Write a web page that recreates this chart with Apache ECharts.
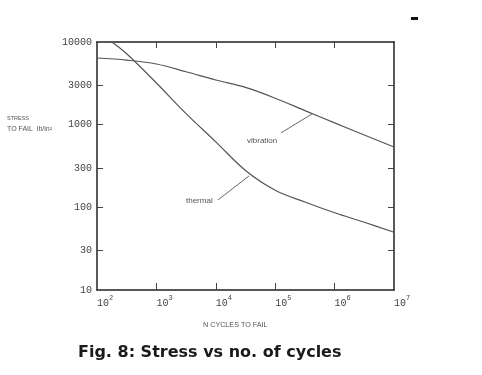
<!DOCTYPE html>
<html>
<head>
<meta charset="utf-8">
<script src="https://cdn.jsdelivr.net/npm/echarts@6/dist/echarts.min.js"></script>
<style>html,body{margin:0;padding:0;background:#fff}#c{width:482px;height:375px}</style>
</head>
<body>
<div id="c"></div>
<script>
// Data (log-log)
const vibrationN = [100, 316, 1000, 3162, 10000, 31623, 100000, 316228, 1000000, 3162278, 10000000];
const vibrationStress = [6400, 6030, 5420, 4370, 3470, 2820, 2090, 1480, 1050, 750, 537];
const thermalN = [178, 316, 1000, 3162, 10000, 31623, 100000, 316228, 1000000, 3162278, 10000000];
const thermalStress = [10000, 7200, 3190, 1360, 620, 279, 161, 116, 86, 66, 50];
const yTickLabels = [10, 30, 100, 300, 1000, 3000, 10000];
const xTickLabels = [100, 1000, 10000, 100000, 1000000, 10000000];
const annotations = [
  { text: 'vibration', from: [125000, 794], to: [417000, 1350] },
  { text: 'thermal', from: [10900, 123], to: [36300, 240] }
];

const toPairs = (xs, ys) => xs.map((x, i) => [x, ys[i]]);
const frame = { show: true, lineStyle: { color: '#222', width: 1.5 } };
const monoFont = '"Liberation Mono", "DejaVu Sans Mono", monospace';
const smallFont = '"Liberation Sans", Arial, sans-serif';

const chart = echarts.init(document.getElementById('c'), null, { renderer: 'canvas' });
chart.setOption({
  animation: false,
  backgroundColor: '#fff',
  grid: { left: 97, right: 88, top: 42, bottom: 85 },
  xAxis: [{
    type: 'log', logBase: 10, min: 100, max: 10000000, position: 'bottom',
    axisLine: frame,
    axisTick: { show: true, inside: true, length: 7, customValues: xTickLabels.slice(1, -1), lineStyle: { color: '#444', width: 1 } },
    splitLine: { show: false },
    axisLabel: {
      customValues: xTickLabels,
      color: '#444', fontFamily: monoFont, fontSize: 10, margin: 5, align: 'left',
      formatter: v => '{b|10}{s|' + Math.round(Math.log10(v)) + '}',
      rich: {
        b: { fontFamily: monoFont, fontSize: 10, color: '#444', lineHeight: 13, verticalAlign: 'bottom' },
        s: { fontFamily: monoFont, fontSize: 7, color: '#444', lineHeight: 13, verticalAlign: 'top', padding: [0, 0, 5, 0] }
      }
    }
  }, {
    type: 'log', logBase: 10, min: 100, max: 10000000, position: 'top',
    axisLine: frame,
    axisTick: { show: true, inside: true, length: 6, customValues: xTickLabels.slice(1, -1), lineStyle: { color: '#444', width: 1 } },
    splitLine: { show: false }, axisLabel: { show: false }
  }],
  yAxis: [{
    type: 'log', logBase: 10, min: 10, max: 10000, position: 'left',
    axisLine: frame,
    axisTick: { show: true, inside: true, length: 6, customValues: yTickLabels.slice(1, -1), lineStyle: { color: '#444', width: 1 } },
    splitLine: { show: false },
    axisLabel: { customValues: yTickLabels, formatter: v => String(Math.round(v)), color: '#444', fontFamily: monoFont, fontSize: 10, margin: 5 }
  }, {
    type: 'log', logBase: 10, min: 10, max: 10000, position: 'right',
    axisLine: frame,
    axisTick: { show: true, inside: true, length: 6, customValues: yTickLabels.slice(1, -1), lineStyle: { color: '#444', width: 1 } },
    splitLine: { show: false }, axisLabel: { show: false }
  }],
  series: [{
    name: 'vibration', type: 'line', xAxisIndex: 0, yAxisIndex: 0,
    data: toPairs(vibrationN, vibrationStress), smooth: 0.35, symbol: 'none',
    lineStyle: { color: '#555', width: 1.2 },
    markLine: {
      silent: true, symbol: 'none', label: { show: false },
      lineStyle: { color: '#666', width: 1, type: 'solid' },
      data: [[{ coord: annotations[0].from }, { coord: annotations[0].to }]]
    }
  }, {
    name: 'thermal', type: 'line', xAxisIndex: 0, yAxisIndex: 0,
    data: toPairs(thermalN, thermalStress), smooth: 0.35, symbol: 'none',
    lineStyle: { color: '#555', width: 1.2 },
    markLine: {
      silent: true, symbol: 'none', label: { show: false },
      lineStyle: { color: '#666', width: 1, type: 'solid' },
      data: [[{ coord: annotations[1].from }, { coord: annotations[1].to }]]
    }
  }],
  graphic: [
    { type: 'text', left: 247, top: 137, style: { text: annotations[0].text, fill: '#555', font: '8px ' + smallFont } },
    { type: 'text', left: 186, top: 197, style: { text: annotations[1].text, fill: '#555', font: '8px ' + smallFont } },
    { type: 'text', left: 7, top: 115, style: { text: 'STRESS', fill: '#555', font: '5.5px ' + smallFont } },
    { type: 'text', left: 7, top: 126, style: { text: 'TO FAIL  lb/in²', fill: '#555', font: '7px ' + smallFont } },
    { type: 'text', left: 203, top: 322, style: { text: 'N CYCLES TO FAIL', fill: '#555', font: '7.2px ' + smallFont } },
    { type: 'text', left: 78, top: 345, style: { text: 'Fig. 8: Stress vs no. of cycles', fill: '#1a1a1a', font: 'bold 16px "DejaVu Sans", sans-serif' } },
    { type: 'rect', left: 411, top: 17, shape: { width: 7, height: 3 }, style: { fill: '#111' } }
  ]
});
</script>
</body>
</html>
